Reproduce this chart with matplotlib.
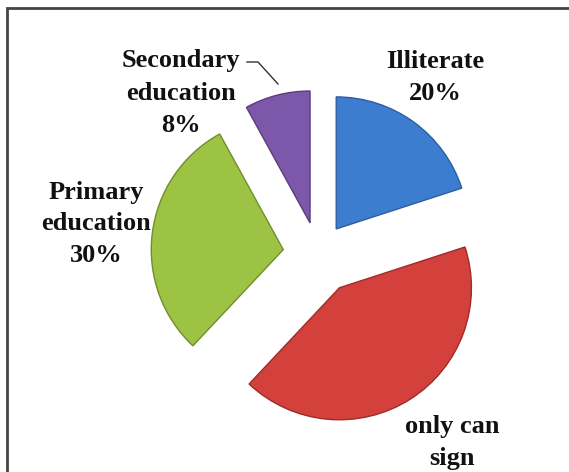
import matplotlib
matplotlib.use("Agg")
import matplotlib.pyplot as plt
from matplotlib.patches import Rectangle

# Literacy levels
categories = ["Illiterate", "only can sign", "Primary education", "Secondary education"]
shares = [20, 42, 30, 8]
label_texts = ["Illiterate\n20%", "only can\nsign", "Primary\neducation\n30%", "Secondary\neducation\n8%"]

colors = ["#3c7dd0", "#d4403b", "#9cc343", "#7d57a9"]
edge_colors = ["#2c5f9e", "#9e2c28", "#6f8f2c", "#5a3e7c"]
explode = [31, 40, 35, 32]

W, H = 569, 472
fig = plt.figure(figsize=(W / 100, H / 100), dpi=100)
ax = fig.add_axes([0, 0, 1, 1])

wedges, _ = ax.pie(shares, explode=explode, colors=colors, startangle=90,
                   counterclock=False, center=(318, H - 254), radius=132,
                   frame=True)
for w, ec in zip(wedges, edge_colors):
    w.set_edgecolor(ec)
    w.set_linewidth(1.0)
ax.set_xlim(0, W)
ax.set_ylim(0, H)
ax.set_aspect("auto")
ax.axis("off")

font = dict(family="Liberation Serif", weight="bold", fontsize=19,
            ha="center", va="center", linespacing=1.5, color="#111111")
label_pos = [(435, H - 77), (452, H - 442), (96, H - 224), (181, H - 93)]
for txt, (x, y) in zip(label_texts, label_pos):
    ax.text(x, y, txt, **font)

# Leader line for the small slice
ax.plot([247, 258, 278], [H - 62, H - 62, H - 84], color="#333333", lw=1.0)

# Chart-area frame
ax.add_patch(Rectangle((7.5, -20), W + 20, H - 7.5 + 20, fill=False,
                       edgecolor="#444444", lw=2.0))

fig.savefig("out.png", dpi=100, facecolor="white")
